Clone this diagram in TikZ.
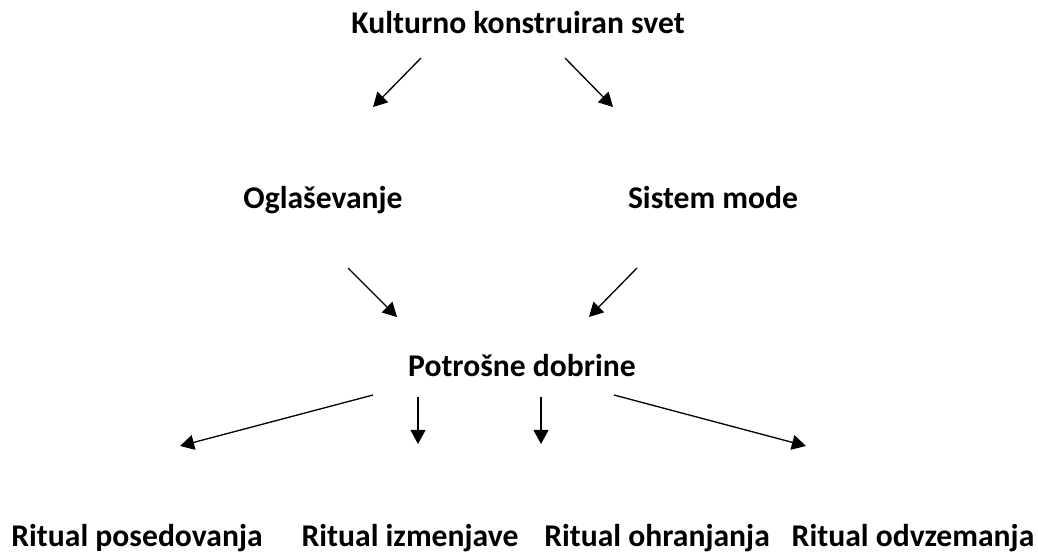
\documentclass[tikz,border=0pt]{standalone}
\usepackage{fontspec}
\setmainfont{Carlito}
\usetikzlibrary{arrows.meta}

\begin{document}
\begin{tikzpicture} [x=0.02cm, y=-0.02cm, font=\bfseries\fontsize{18}{21}\selectfont,
  lbl/.style={inner sep=0pt, anchor=base},
  arr/.style={line width=0.75pt, -{Triangle[length=8pt, width=8.5pt]}}]
\useasboundingbox (0,0) rectangle (1038,556);
\path (518,33) node[lbl] (svet) {Kulturno konstruiran svet}
	  (323,208) node[lbl] (ogl) {Ogla\v{s}evanje}
	  (713,208) node[lbl] (moda) {Sistem mode}
	  (522,376) node[lbl] (dobr) {Potro\v{s}ne dobrine}
	  (137,546) node[lbl] (r1) {Ritual posedovanja}
	  (410,546) node[lbl] (r2) {Ritual izmenjave}
	  (657,546) node[lbl] (r3) {Ritual ohranjanja}
	  (913,546) node[lbl] (r4) {Ritual odvzemanja};

\path (421,58) coordinate (a1) (373,107) coordinate (b1)
	  (565,58) coordinate (a2) (613,107) coordinate (b2)
	  (348,268) coordinate (a3) (397,317) coordinate (b3)
	  (637,268) coordinate (a4) (589,317) coordinate (b4)
	  (373,395) coordinate (a5) (180,446) coordinate (b5)
	  (418,397) coordinate (a6) (418,444) coordinate (b6)
	  (541,397) coordinate (a7) (541,444) coordinate (b7)
	  (614,395) coordinate (a8) (806,446) coordinate (b8);

\draw[arr] (a1) to (b1);
\draw[arr] (a2) to (b2);
\draw[arr] (a3) to (b3);
\draw[arr] (a4) to (b4);
\draw[arr] (a5) to (b5);
\draw[arr] (a6) to (b6);
\draw[arr] (a7) to (b7);
\draw[arr] (a8) to (b8);
\end{tikzpicture}
\end{document}
